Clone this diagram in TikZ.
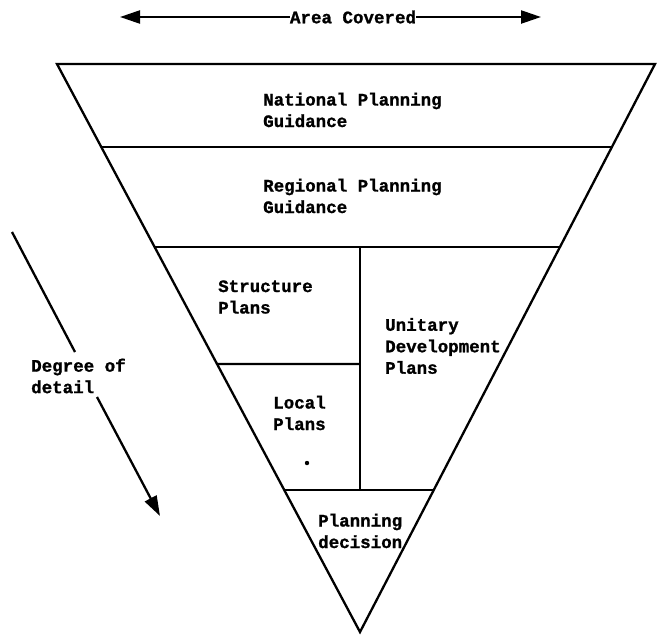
\documentclass[tikz,border=0pt]{standalone}
\usepackage{fontspec}
\setmonofont{Liberation Mono}[BoldFeatures={FakeBold=1.2}]
\usetikzlibrary{arrows.meta,calc}
\begin{document}
\begin{tikzpicture}[x=1pt,y=-1pt,
  edge/.style={line width=2.3pt, line join=miter},
  lbl/.style={font=\ttfamily\bfseries\fontsize{17.5}{21.5}\selectfont, align=left, inner sep=0pt},
  tip/.style={-{Triangle[length=20pt,width=13pt]}}]
\useasboundingbox (0,0) rectangle (658,638);

% funnel outline
\coordinate (TL) at (57,64);
\coordinate (TR) at (655,64);
\coordinate (AP) at (360,632);
\draw[edge] (TL) -- (TR) -- (AP) -- cycle;

% level dividers (end points lie on the funnel sides)
\coordinate (A1) at ($(TL)!83/568!(AP)$);
\coordinate (A2) at ($(TR)!83/568!(AP)$);
\coordinate (B1) at ($(TL)!183/568!(AP)$);
\coordinate (B2) at ($(TR)!183/568!(AP)$);
\coordinate (C1) at ($(TL)!300/568!(AP)$);
\coordinate (D1) at ($(TL)!426/568!(AP)$);
\coordinate (D2) at ($(TR)!426/568!(AP)$);
\coordinate (VT) at (360,247);
\coordinate (VB) at (360,490);
\coordinate (C2) at (360,364);
\draw[edge] (A1) -- (A2);
\draw[edge] (B1) -- (B2);
\draw[edge] (D1) -- (D2);
\draw[edge] (VT) -- (VB);
\draw[edge] (C1) -- (C2);

% level labels
\node[lbl, anchor=west] (nat) at (263,110) {National Planning\\Guidance};
\node[lbl, anchor=west] (reg) at (263,196) {Regional Planning\\Guidance};
\node[lbl, anchor=west] (str) at (218,297) {Structure\\Plans};
\node[lbl, anchor=west] (udp) at (385,346) {Unitary\\Development\\Plans};
\node[lbl, anchor=west] (loc) at (273,413) {Local\\Plans};
\fill (307,463) circle (2.2pt);
\node[lbl, anchor=west] (dec) at (318,531) {Planning\\decision};

% area covered arrow
\node[lbl] (area) at (353,17) {Area Covered};
\coordinate (AL) at (120,17);
\coordinate (AR) at (541,17);
\draw[edge, tip] (area.west) -- (AL);
\draw[edge, tip] (area.east) -- (AR);

% degree of detail arrow
\node[lbl, anchor=west] (deg) at (31,376) {Degree of\\detail};
\coordinate (G1) at (12,232);
\coordinate (G2) at (75,352);
\coordinate (G3) at (97,397);
\coordinate (G4) at (160,516);
\draw[edge] (G1) -- (G2);
\draw[edge, tip] (G3) -- (G4);
\end{tikzpicture}
\end{document}
